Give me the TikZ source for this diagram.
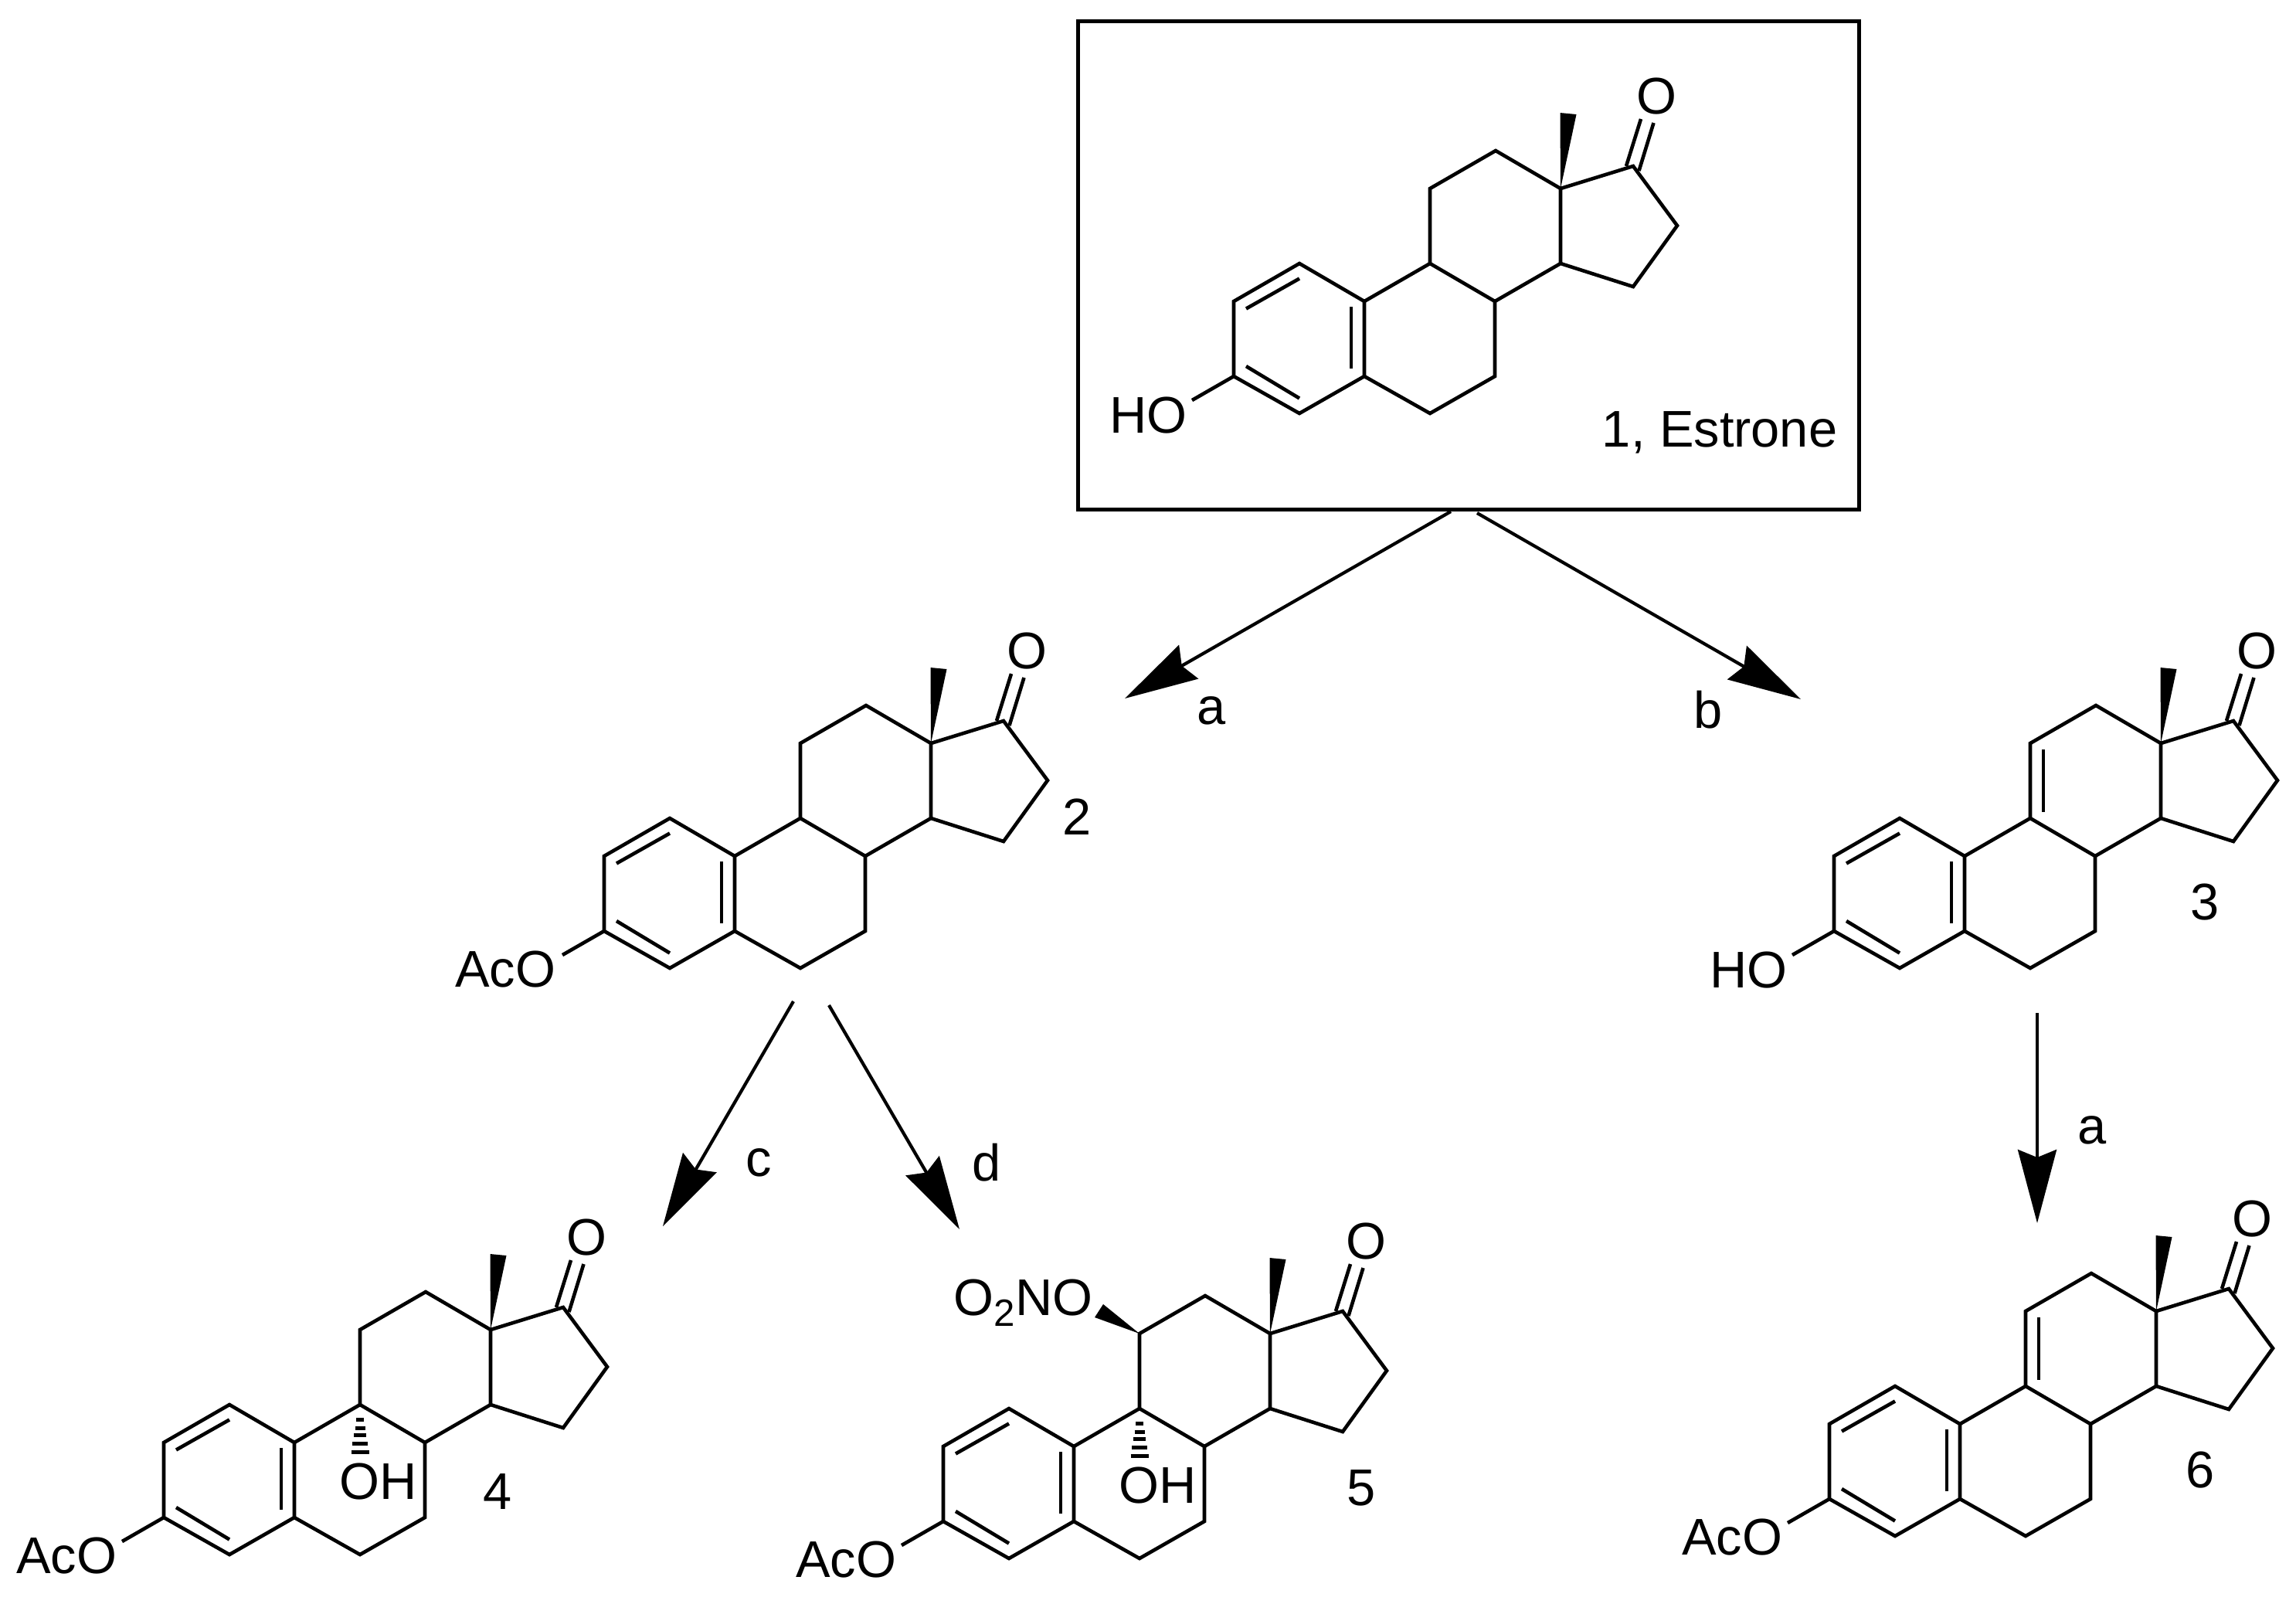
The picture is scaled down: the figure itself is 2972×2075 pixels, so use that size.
\documentclass[tikz,border=0pt]{standalone}
\usepackage{fontspec}
\setmainfont{Liberation Sans}
\usetikzlibrary{arrows.meta}
\tikzset{
  bond/.style={line width=0.46mm},
  rxnarrow/.style={line width=0.42mm,-{Stealth[length=9.5mm,width=5mm,inset=1mm]}},
  atomlabel/.style={inner sep=0pt,font=\fontsize{19}{19}\selectfont},
}
\begin{document}
\begin{tikzpicture}[x=0.1mm,y=-0.1mm]
    \useasboundingbox (0,0) rectangle (2972,2075);
    \node[draw,line width=0.5mm,inner sep=0pt,minimum width=101.1mm,minimum height=63.2mm] (box) at (1900.5,343) {};
    % the six skeletons
    \foreach \n/\px/\py in {1/1597/487,2/782/1205,3/2374/1205,4/212/1964,5/1221/1969,6/2368/1940}{
        \begin{scope}[shift={(\px,\py)}]
            \foreach \a/\ax/\ay in {c3/0/0,c2/0/-97,c1/85/-146,c10/169/-97,c5/169/0,c4/85/48,c6/254/48,c7/338/0,c8/338/-97,c9/254/-146,c11/254/-243,c12/339/-292,c13/423/-243,c14/423/-146,c15/517/-116,c16/574/-195,c17/517/-272,me/433/-340,oa/-54/31}
                \coordinate (\n\a) at (\ax,\ay);
            \draw[bond] (\n c3)--(\n c2)--(\n c1)--(\n c10)--(\n c5)--(\n c4)--cycle;
            \draw[bond] (\n c5)--(\n c6)--(\n c7)--(\n c8)--(\n c9)--(\n c10);
            \draw[bond] (\n c9)--(\n c11)--(\n c12)--(\n c13)--(\n c14);
            \draw[bond] (\n c8)--(\n c14)--(\n c15)--(\n c16)--(\n c17)--(\n c13);
            \draw[bond] (16,-87.5)--(85,-126.5);
            \draw[bond] (152,-90)--(152,-10);
            \draw[bond] (16,-13)--(85,28.5);
            \draw[bond] (508,-272)--(527,-333);
            \draw[bond] (524.5,-266)--(543.5,-328);
            \fill (\n c13)--(422.5,-341)--(443.5,-339)--cycle;
            \node[atomlabel,anchor=base] (\n oxo) at (547,-340) {O};
            \draw[bond] (\n c3)--(\n oa);
        \end{scope}
    }
    % the 9(11) double bond
    \foreach \n in {3,6}{
        \begin{scope}[shift={(\n c3)}]
            \draw[bond] (271,-235)--(271,-154);
        \end{scope}
    }
    % the 9-OH
    \foreach \n in {4,5}{
        \begin{scope}[shift={(\n c9)}]
            \foreach \d/\w in {19/5,30/6.5,39/8,50/10,61/11.5}
                \draw[line width=0.5mm] (-\w,\d)--(\w,\d);
            \node[atomlabel,anchor=base] (\n oh) at (24,122) {OH};
        \end{scope}
    }
    % the ring A substituents
    \node[atomlabel,anchor=base east] (1ho) at (1537,560) {HO};
    \node[atomlabel,anchor=base east] (3ho) at (2314,1278) {HO};
    \node[atomlabel,anchor=base east] (2aco) at (720,1277) {AcO};
    \node[atomlabel,anchor=base east] (4aco) at (152,2036) {AcO};
    \node[atomlabel,anchor=base east] (5aco) at (1161,2041) {AcO};
    \node[atomlabel,anchor=base east] (6aco) at (2308,2012) {AcO};
    % nitrate of 5
    \fill (5c11)--(1428,1688)--(1417,1705)--cycle;
    \node[atomlabel,anchor=base east] (5ono) at (1415,1702) {O\raisebox{-1.4mm}{\fontsize{14}{14}\selectfont 2}NO};
    % compound numbers
    \node[atomlabel,anchor=base east] (name1) at (2379,578) {1, Estrone};
    \node[atomlabel,anchor=base] (num2) at (1394,1080) {2};
    \node[atomlabel,anchor=base] (num3) at (2854,1190) {3};
    \node[atomlabel,anchor=base] (num4) at (644,1953) {4};
    \node[atomlabel,anchor=base] (num5) at (1762,1948) {5};
    \node[atomlabel,anchor=base] (num6) at (2848,1925) {6};
    % reaction arrows
    \coordinate (ta) at (1878,662);
    \coordinate (ha) at (1456,904);
    \coordinate (tb) at (1912,664);
    \coordinate (hb) at (2331,905);
    \coordinate (tc) at (1027,1296);
    \coordinate (hc) at (858,1587);
    \coordinate (td) at (1073,1301);
    \coordinate (hd) at (1242,1591);
    \coordinate (te) at (2637,1311);
    \coordinate (he) at (2637,1583);
    \draw[rxnarrow] (ta)--(ha);
    \draw[rxnarrow] (tb)--(hb);
    \draw[rxnarrow] (tc)--(hc);
    \draw[rxnarrow] (td)--(hd);
    \draw[rxnarrow] (te)--(he);
    \node[atomlabel,anchor=base] (la) at (1568,937) {a};
    \node[atomlabel,anchor=base] (lb) at (2211,942) {b};
    \node[atomlabel,anchor=base] (lc) at (982,1522) {c};
    \node[atomlabel,anchor=base] (ld) at (1277,1528) {d};
    \node[atomlabel,anchor=base] (le) at (2708,1480) {a};
\end{tikzpicture}
\end{document}
